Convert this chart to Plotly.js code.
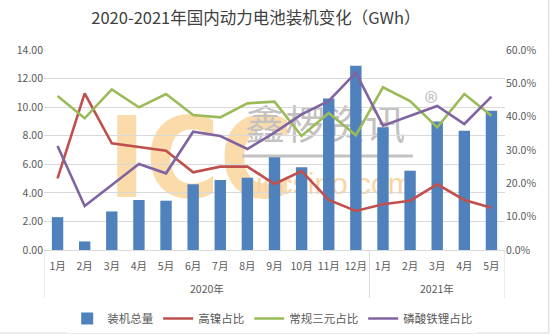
<!DOCTYPE html>
<html>
<head>
<meta charset="utf-8">
<script src="https://cdn.plot.ly/plotly-3.0.1.min.js"></script>
<style>html,body{margin:0;padding:0;background:#fff;}#chart{width:554px;height:336px;}</style>
</head>
<body>
<div id="chart"></div>
<script>
const years = ["2020年","2020年","2020年","2020年","2020年","2020年","2020年","2020年","2020年","2020年","2020年","2020年","2021年","2021年","2021年","2021年","2021年"];
const months = ["1月","2月","3月","4月","5月","6月","7月","8月","9月","10月","11月","12月","1月","2月","3月","4月","5月"];
const totalGWh = [2.3, 0.6, 2.7, 3.5, 3.45, 4.6, 4.9, 5.05, 6.5, 5.8, 10.6, 12.9, 8.6, 5.55, 9.0, 8.35, 9.75];
const highNi = [0.215, 0.47, 0.32, 0.308, 0.298, 0.233, 0.25, 0.25, 0.198, 0.237, 0.15, 0.117, 0.137, 0.148, 0.197, 0.15, 0.127];
const ncm = [0.462, 0.395, 0.482, 0.428, 0.468, 0.405, 0.398, 0.44, 0.445, 0.342, 0.411, 0.344, 0.488, 0.447, 0.368, 0.468, 0.403];
const lfp = [0.312, 0.132, 0.195, 0.258, 0.23, 0.355, 0.342, 0.303, 0.352, 0.407, 0.447, 0.532, 0.373, 0.402, 0.432, 0.378, 0.46];
const names = ["装机总量","高镍占比","常规三元占比","磷酸铁锂占比"];
const colors = ["#4F81BD","#C0504D","#9BBB59","#8064A2"];

const xIdx = months.map((m, i) => i);
const traces = [
  {type:"bar", x:xIdx, y:totalGWh, name:names[0], marker:{color:colors[0]}, yaxis:"y"},
  {type:"scatter", mode:"lines", x:xIdx, y:highNi, name:names[1], line:{color:colors[1], width:2.6}, yaxis:"y2"},
  {type:"scatter", mode:"lines", x:xIdx, y:ncm, name:names[2], line:{color:colors[2], width:2.6}, yaxis:"y2"},
  {type:"scatter", mode:"lines", x:xIdx, y:lfp, name:names[3], line:{color:colors[3], width:2.6}, yaxis:"y2"}
];
const font = "Noto Sans CJK SC, Open Sans, sans-serif";
const gridGrey = "#D9D9D9";

// year groups derived from the years array
const groups = [];
years.forEach((y, i) => {
  const g = groups[groups.length - 1];
  if (g && g.name === y) g.end = i; else groups.push({name:y, start:i, end:i});
});
const annotations = groups.map(g => ({
  xref:"x", yref:"paper", x:(g.start + g.end) / 2, y:-0.19, yanchor:"middle", xanchor:"center",
  text:g.name, showarrow:false, font:{family:font, size:10.5, color:"#595959"}
}));
const dividers = [];
groups.forEach((g, k) => {
  if (k === 0) dividers.push(g.start - 0.5);
  dividers.push(g.end + 0.5);
});
const dividerShapes = dividers.map(x => ({
  type:"line", xref:"x", yref:"paper", x0:x, x1:x, y0:0, y1:-0.24, line:{color:gridGrey, width:1}
}));

function wm(x0, x1, y0, y1, text, size, color, family) {
  return {type:"rect", xref:"paper", yref:"paper", x0:x0, x1:x1, y0:y0, y1:y1, layer:"below",
    line:{width:0}, fillcolor:"rgba(0,0,0,0)",
    label:{text:text, font:{family:family || font, size:size, color:color}, textposition:"middle center"}};
}
const layout = {
  width:554, height:336,
  margin:{l:44, r:49, t:50, b:86, autoexpand:false},
  paper_bgcolor:"#fff", plot_bgcolor:"rgba(0,0,0,0)",
  font:{family:font, color:"#595959", size:10.5},
  title:{text:"2020-2021年国内动力电池装机变化（GWh）", font:{family:font, size:16.5, color:"#404040"}, x:0.462, xanchor:"center", y:0.945, yanchor:"middle"},
  bargap:0.58,
  showlegend:true,
  legend:{orientation:"h", x:0.495, xanchor:"center", y:-0.27, yanchor:"top", font:{family:font, size:11.5, color:"#595959"}, traceorder:"normal", itemwidth:30, tracegroupgap:0},
  xaxis:{type:"linear", range:[-0.5, months.length - 0.5], tickmode:"array", tickvals:xIdx, ticktext:months, automargin:false, tickangle:0, ticklabelstandoff:6, showline:true, linecolor:gridGrey, linewidth:1, ticks:"", zeroline:false, tickfont:{family:font, size:10.5, color:"#595959"}, showgrid:false},
  yaxis:{range:[0,14], dtick:2, tickformat:".2f", automargin:false, showgrid:true, gridcolor:gridGrey, gridwidth:1, zeroline:false, tickfont:{family:font, size:10.5, color:"#595959"}, ticks:"", ticklen:0},
  yaxis2:{overlaying:"y", side:"right", automargin:false, range:[0,0.6], dtick:0.1, tickformat:".1%", showgrid:false, zeroline:false, tickfont:{family:font, size:10.5, color:"#595959"}},
  annotations:annotations,
  shapes:[
    wm(0.22, 0.46, 0.36, 0.64, "<b>ICC</b>", 112, "#FBDBAA", "Liberation Sans Narrow, DejaVu Sans Condensed, sans-serif"),
    wm(0.45, 0.77, 0.52, 0.70, "鑫椤资讯", 40, "#C4C1C1"),
    wm(0.80, 0.88, 0.66, 0.79, "®", 28, "#C4C1C1"),
    wm(0.43, 0.83, 0.25, 0.45, "iccsino.com", 30, "#F9D5A4", "Liberation Sans, sans-serif"),
    {type:"line", xref:"paper", yref:"paper", x0:0.43, x1:0.80, y0:0.47, y1:0.47, layer:"below", line:{color:"#C4C1C1", width:3}},
    ...dividerShapes,
    {type:"line", xref:"paper", yref:"paper", x0:-0.1, x1:1.095, y0:-0.415, y1:-0.415, line:{color:gridGrey, width:1}},
    {type:"line", xref:"paper", yref:"paper", x0:1.095, x1:1.095, y0:-0.415, y1:1.25, line:{color:gridGrey, width:1}}
  ]
};
Plotly.newPlot("chart", traces, layout, {displayModeBar:false, staticPlot:true});
</script>
</body>
</html>
